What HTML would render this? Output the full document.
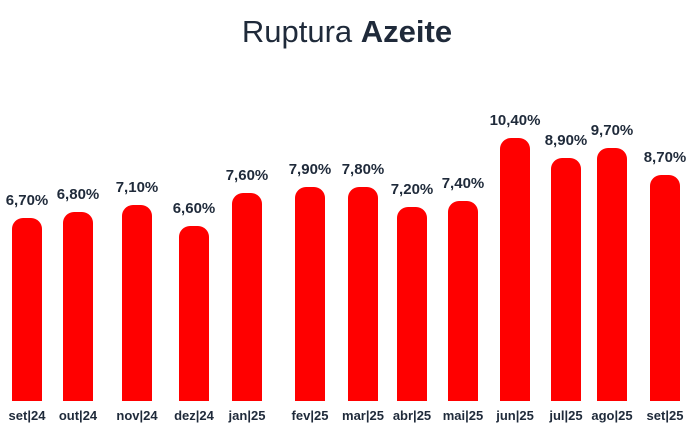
<html><head><style>
body{margin:0;width:694px;height:436px;background:#fff;position:relative;overflow:hidden;font-family:"Liberation Sans",sans-serif}
.t{position:absolute;top:14px;left:0;width:694px;text-align:center;font-size:31px;color:#1f2a3a}
.b{position:absolute;background:#ff0000;border-radius:11px 11px 0 0;width:30px;bottom:35px}
.v{position:absolute;width:80px;text-align:center;font-weight:bold;font-size:15px;color:#1f2a3a}
.l{position:absolute;top:408px;width:70px;text-align:center;font-weight:bold;font-size:13px;color:#1f2a3a}
</style></head><body>
<div class="t">Ruptura <b>Azeite</b></div>
<div id="c"></div>
<script>
var d=[[12,218,"6,70%","set|24"],[63,212,"6,80%","out|24"],[122,205,"7,10%","nov|24"],[179,226,"6,60%","dez|24"],[232,193,"7,60%","jan|25"],[295,187,"7,90%","fev|25"],[348,187,"7,80%","mar|25"],[397,207,"7,20%","abr|25"],[448,201,"7,40%","mai|25"],[500,138,"10,40%","jun|25"],[551,158,"8,90%","jul|25"],[597,148,"9,70%","ago|25"],[650,175,"8,70%","set|25"]];
var h="";d.forEach(function(e){h+='<div class="b" style="left:'+e[0]+'px;top:'+e[1]+'px"></div><div class="v" style="left:'+(e[0]-25)+'px;top:'+(e[1]-26)+'px">'+e[2]+'</div><div class="l" style="left:'+(e[0]-20)+'px">'+e[3]+'</div>';});
document.getElementById("c").innerHTML=h;
</script>
</body></html>
